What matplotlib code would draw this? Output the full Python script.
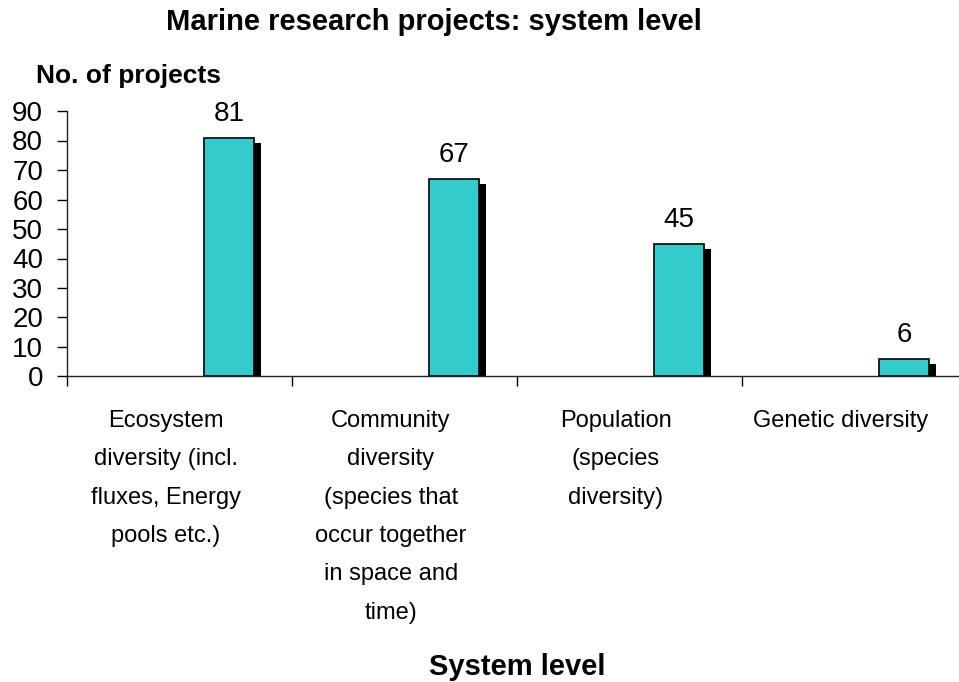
import matplotlib
matplotlib.use("Agg")
import matplotlib.pyplot as plt
import matplotlib.patheffects as pe
from matplotlib import transforms
import numpy as np

plt.rcParams['font.family'] = ['Liberation Sans', 'DejaVu Sans']

categories = [
    "Ecosystem\ndiversity (incl.\nfluxes, Energy\npools etc.)",
    "Community\ndiversity\n(species that\noccur together\nin space and\ntime)",
    "Population\n(species\ndiversity)",
    "Genetic diversity",
]
projects = [81, 67, 45, 6]
yticks = [0, 10, 20, 30, 40, 50, 60, 70, 80, 90]

W, H = 959, 682
fig = plt.figure(figsize=(W / 100, H / 100), dpi=100)

# axes box in pixels: y=0 at 376.5, y=90 at 111, one category = 225 px
ax = fig.add_axes([67 / W, 1 - 376.5 / H, 900 / W, 265.5 / H])

x = np.arange(len(projects))
bar_shift = 0.22
bars = ax.bar(x + bar_shift, projects, width=0.222, color='#33CCCC',
              edgecolor='black', linewidth=1.2)
for b in bars:
    b.set_path_effects([pe.SimplePatchShadow(offset=(5, -3.6), shadow_rgbFace='black', alpha=1.0),
                        pe.Normal()])

for xi, v in zip(x + bar_shift, projects):
    ax.annotate(str(v), (xi, v), xytext=(0, 12), textcoords='offset points',
                ha='center', va='baseline', fontsize=20)

ax.set_xlim(-0.5, 3.5)
ax.set_ylim(0, 90)
ax.set_yticks(yticks)
ax.tick_params(axis='y', direction='out', length=7.2, width=1, pad=10, labelsize=20)
ax.set_xticks(np.arange(-0.5, 4, 1))
ax.set_xticklabels([])
ax.tick_params(axis='x', direction='out', length=7.2, width=1)

for side in ['top', 'right']:
    ax.spines[side].set_visible(False)
for side in ['left', 'bottom']:
    ax.spines[side].set_linewidth(1)
    ax.spines[side].set_color('#222222')

# category names below the axis, one wrapped block per category
trans = transforms.blended_transform_factory(ax.transData, fig.transFigure)
for xi, name in zip(x, categories):
    ax.text(xi - 0.06, 1 - 410 / H, name, transform=trans, ha='center', va='top',
            multialignment='center', fontsize=17, linespacing=1.96)

fig.text(434 / W, 1 - 30 / H, "Marine research projects: system level",
         ha='center', va='baseline', fontsize=21, fontweight='bold')
fig.text(36 / W, 1 - 83.5 / H, "No. of projects", ha='left', va='baseline',
         fontsize=19, fontweight='bold')
fig.text(517 / W, 1 - 675 / H, "System level", ha='center', va='baseline',
         fontsize=21, fontweight='bold')

fig.savefig("out.png", dpi=100)
